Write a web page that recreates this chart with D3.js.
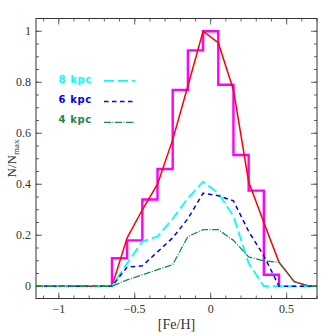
<!DOCTYPE html>
<html>
<head>
<meta charset="utf-8">
<script src="https://cdn.jsdelivr.net/npm/d3@7"></script>
<style>
  body { margin: 0; background: #fff; }
  svg { display: block; }
</style>
</head>
<body>
<svg width="335" height="335"></svg>
<script>
// histogram: left edges of 0.1-wide bins and their heights
var histEdges = [-0.65, -0.55, -0.45, -0.35, -0.25, -0.15, -0.05, 0.05, 0.15, 0.25, 0.35, 0.45];
var histVals  = [0.11, 0.18, 0.34, 0.46, 0.77, 0.925, 1.0, 0.79, 0.515, 0.375, 0.045];

// model curves sampled at the bin edges
var feh   = [-1.15, -0.65, -0.55, -0.45, -0.35, -0.25, -0.15, -0.05, 0.05, 0.15, 0.25, 0.35, 0.45, 0.55, 0.65, 0.7];
var total = [0, 0, 0.19, 0.30, 0.40, 0.575, 0.785, 1.0, 0.955, 0.77, 0.41, 0.25, 0.094, 0.018, 0, 0];
var r8    = [0, 0, 0.09, 0.175, 0.195, 0.265, 0.345, 0.41, 0.365, 0.275, 0.09, 0, 0, 0, 0, 0];
var r6    = [0, 0, 0.075, 0.08, 0.135, 0.19, 0.265, 0.365, 0.355, 0.335, 0.215, 0.12, 0, 0, 0, 0];
var r4    = [0, 0, 0.025, 0.045, 0.065, 0.085, 0.195, 0.222, 0.222, 0.18, 0.115, 0.1, 0.094, 0.018, 0, 0];

var xTicks = [-1, -0.5, 0, 0.5];
var xTickLabels = ["\u22121", "\u22120.5", "0", "0.5"];
var yTicks = [0, 0.2, 0.4, 0.6, 0.8, 1];
var yTickLabels = ["0", "0.2", "0.4", "0.6", "0.8", "1"];

var legendNames = ["8 kpc", "6 kpc", "4 kpc"];

var svg = d3.select("svg");
var L = 36, R = 317, T = 18.5, B = 298.5;

var x = d3.scaleLinear().domain([-1.15, 0.7]).range([L, R]);
var y = d3.scaleLinear().domain([-0.05, 1.05]).range([299, 18.5]);

var tickCol = "#666";

// minor and major ticks on all four sides, pointing in
var xMinor = d3.range(-11, 8).map(function(i) { return i / 10 });
var yMinor = d3.range(0, 21).map(function(i) { return i / 20 });

function tickLines(vals, len, horiz) {
  vals.forEach(function(v) {
    if (horiz) {
      svg.append("line").attr("x1", x(v)).attr("x2", x(v)).attr("y1", B).attr("y2", B - len)
        .attr("stroke", tickCol).attr("stroke-width", 1);
      svg.append("line").attr("x1", x(v)).attr("x2", x(v)).attr("y1", T).attr("y2", T + len)
        .attr("stroke", tickCol).attr("stroke-width", 1);
    } else {
      svg.append("line").attr("y1", y(v)).attr("y2", y(v)).attr("x1", L).attr("x2", L + len)
        .attr("stroke", tickCol).attr("stroke-width", 1);
      svg.append("line").attr("y1", y(v)).attr("y2", y(v)).attr("x1", R).attr("x2", R - len)
        .attr("stroke", tickCol).attr("stroke-width", 1);
    }
  });
}
tickLines(xMinor, 3, true);
tickLines(xTicks, 6, true);
tickLines(yMinor, 3, false);
tickLines(yTicks, 6, false);

// curves
var line = d3.line().x(function(d) { return x(d[0]) }).y(function(d) { return y(d[1]) });
function pairs(vals) { return feh.map(function(f, i) { return [f, vals[i]] }) }

// histogram outline
var hist = [[histEdges[0], 0]];
histVals.forEach(function(v, i) {
  hist.push([histEdges[i], v]);
  hist.push([histEdges[i + 1], v]);
});
hist.push([histEdges[histEdges.length - 1], 0]);

svg.append("path").attr("d", line(hist)).attr("fill", "none")
  .attr("stroke", "#ff00ff").attr("stroke-width", 2.4);

svg.append("path").attr("d", line(pairs(total))).attr("fill", "none")
  .attr("stroke", "#ff0000").attr("stroke-width", 1.5);

var series = [
  { vals: r8, color: "#00ffff", dash: "10,4", w: 1.8 },
  { vals: r6, color: "#0000ff", dash: "4.5,3.5", w: 1.5 },
  { vals: r4, color: "#1a8a4a", dash: "7,1.5,1,1.5", w: 1.3 }
];
series.forEach(function(s) {
  svg.append("path").attr("d", line(pairs(s.vals))).attr("fill", "none")
    .attr("stroke", s.color).attr("stroke-width", s.w).attr("stroke-dasharray", s.dash);
});

// legend
series.forEach(function(s, i) {
  svg.append("text").attr("x", 58.5).attr("y", 83 + i * 20.2).text(legendNames[i])
    .attr("fill", s.color).attr("font-family", "DejaVu Sans").attr("font-weight", "bold")
    .attr("font-size", "10px").attr("letter-spacing", "0.6px");
  var ly = 80.8 + i * 20.8;
  svg.append("line").attr("x1", 104).attr("x2", 135).attr("y1", ly).attr("y2", ly)
    .attr("stroke", s.color).attr("stroke-width", s.w).attr("stroke-dasharray", s.dash);
});

// frame
svg.append("rect").attr("x", L).attr("y", T).attr("width", R - L).attr("height", B - T)
  .attr("fill", "none").attr("stroke", "#333").attr("stroke-width", 1);

// tick labels
var lab = { "font-family": "Liberation Serif", "font-size": "12px", "fill": "#333" };
xTicks.forEach(function(v, i) {
  var t = svg.append("text").attr("x", x(v)).attr("y", 313).attr("text-anchor", "middle")
    .text(xTickLabels[i]);
  for (var k in lab) t.attr(k, lab[k]);
});
yTicks.forEach(function(v, i) {
  var t = svg.append("text").attr("x", 31).attr("y", y(v) + 4).attr("text-anchor", "end")
    .text(yTickLabels[i]);
  for (var k in lab) t.attr(k, lab[k]);
});

// axis titles
svg.append("text").attr("x", (L + R) / 2).attr("y", 329).attr("text-anchor", "middle")
  .attr("font-family", "Liberation Serif").attr("font-size", "14px").attr("fill", "#333")
  .text("[Fe/H]");

var yl = svg.append("text").attr("transform", "translate(16," + ((T + B) / 2) + ") rotate(-90)")
  .attr("text-anchor", "middle").attr("font-family", "Liberation Serif")
  .attr("font-size", "13px").attr("fill", "#333");
yl.append("tspan").text("N/N");
yl.append("tspan").attr("font-size", "9px").attr("dy", 3).text("max");
</script>
</body>
</html>
